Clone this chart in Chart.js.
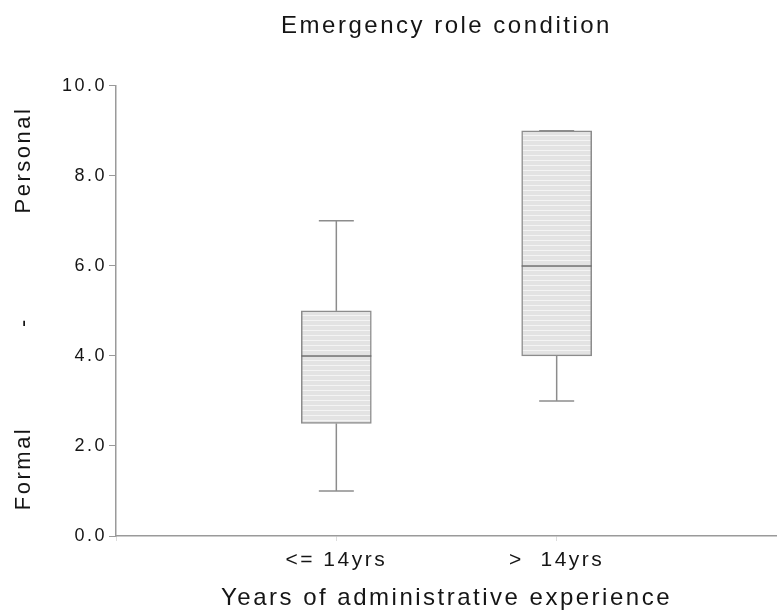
<!DOCTYPE html>
<html lang="en">
<head>
<meta charset="UTF-8">
<title>Emergency role condition</title>
<style>
  body { margin: 0; background: #fff; }
  #wrap { width: 777px; height: 614px; }
</style>
</head>
<body>
<div id="wrap"><canvas id="chart"></canvas></div>
<script src="https://cdn.jsdelivr.net/npm/chart.js"></script>
<script>
// categories (empty ends keep the boxes at 1/3 and 2/3 of the axis)
const categories = ['', '<= 14yrs', '>  14yrs', ''];
const q1 = [null, 2.5, 4, null];
const q3 = [null, 5, 9, null];
const medians = [null, 4, 6, null];
const whiskerLow = [null, 1, 3, null];
const whiskerHigh = [null, 7, 9, null];
const yTicks = [0, 2, 4, 6, 8, 10];
const sideLabels = ['Formal', '-', 'Personal'];
const sideLabelAt = [1.5, 4.75, 8.35];

const textColor = '#151515';
const lineColor = '#8c8c8c';
const fontFamily = '"Liberation Sans", Arial, sans-serif';

function hatch() {
    const c = document.createElement('canvas');
    c.width = 8; c.height = 5;
    const g = c.getContext('2d');
    g.fillStyle = '#e3e3e3';
    g.fillRect(0, 0, 8, 5);
    g.fillStyle = '#f4f4f4';
    g.fillRect(0, 0, 8, 1);
    return g.createPattern(c, 'repeat');
}

// wide lettering like the scanned original
const spacing = {
    id: 'spacing',
    beforeUpdate(chart) { chart.ctx.letterSpacing = '2.5px'; },
    beforeDraw(chart) { chart.ctx.letterSpacing = '2.5px'; },
    afterLayout(chart) {
        // centre the title over the plot area
        if (chart.titleBlock) {
            chart.titleBlock.left = chart.chartArea.left;
            chart.titleBlock.right = chart.chartArea.right;
        }
    }
};

const boxParts = {
    id: 'boxParts',
    afterDatasetsDraw(chart) {
        const { ctx, scales: { x, y } } = chart;
        const bars = chart.getDatasetMeta(0).data;
        ctx.save();
        ctx.strokeStyle = lineColor;
        ctx.lineWidth = 1.5;
        const seg = (x1, y1, x2, y2) => {
            ctx.beginPath(); ctx.moveTo(x1, y1); ctx.lineTo(x2, y2); ctx.stroke();
        };
        categories.forEach((c, i) => {
            if (medians[i] == null) return;
            const cx = x.getPixelForValue(i);
            const half = bars[i].width / 2;
            const cap = half / 2;
            seg(cx, y.getPixelForValue(whiskerHigh[i]), cx, y.getPixelForValue(q3[i]));
            seg(cx, y.getPixelForValue(whiskerLow[i]), cx, y.getPixelForValue(q1[i]));
            seg(cx - cap, y.getPixelForValue(whiskerHigh[i]), cx + cap, y.getPixelForValue(whiskerHigh[i]));
            seg(cx - cap, y.getPixelForValue(whiskerLow[i]), cx + cap, y.getPixelForValue(whiskerLow[i]));
            ctx.strokeStyle = '#6e6e6e';
            seg(cx - half, y.getPixelForValue(medians[i]), cx + half, y.getPixelForValue(medians[i]));
            ctx.strokeStyle = lineColor;
        });
        ctx.restore();
    },
    afterDraw(chart) {
        const { ctx, scales: { y } } = chart;
        ctx.save();
        ctx.fillStyle = textColor;
        ctx.font = '22px ' + fontFamily;
        ctx.textAlign = 'center';
        ctx.textBaseline = 'middle';
        sideLabels.forEach((t, i) => {
            ctx.save();
            ctx.translate(24, y.getPixelForValue(sideLabelAt[i]));
            ctx.rotate(-Math.PI / 2);
            ctx.fillText(t, 0, 0);
            ctx.restore();
        });
        ctx.restore();
    }
};

new Chart(document.getElementById('chart'), {
    type: 'bar',
    data: {
        labels: categories,
        datasets: [{
            data: categories.map((c, i) => q1[i] == null ? null : [q1[i], q3[i]]),
            backgroundColor: hatch(),
            borderColor: lineColor,
            borderWidth: 1.5,
            borderSkipped: false,
            barThickness: 70
        }]
    },
    options: {
        responsive: true,
        maintainAspectRatio: false,
        animation: false,
        layout: { padding: { left: 60, right: 0, top: 0, bottom: 0 } },
        plugins: {
            legend: { display: false },
            tooltip: { enabled: false },
            title: {
                display: true,
                text: 'Emergency role condition',
                color: textColor,
                font: { family: fontFamily, size: 24, weight: 'normal' },
                padding: { top: 12, bottom: 45 }
            }
        },
        scales: {
            x: {
                offset: false,
                afterFit: s => { s.paddingLeft = 0; s.paddingRight = 0; },
                grid: { drawOnChartArea: false, offset: false, tickLength: 5, color: '#dddddd' },
                border: { color: '#9a9a9a', width: 1.5 },
                ticks: {
                    color: textColor, padding: 7, maxRotation: 0, autoSkip: false,
                    font: { family: fontFamily, size: 21 }
                },
                title: {
                    display: true,
                    text: 'Years of administrative experience',
                    color: textColor,
                    font: { family: fontFamily, size: 24 },
                    padding: { top: 4, bottom: 1 }
                }
            },
            y: {
                min: 0,
                max: 10,
                afterBuildTicks: s => { s.ticks = yTicks.map(v => ({ value: v })); },
                afterFit: s => { s.width = 56; },
                grid: { drawOnChartArea: false, tickLength: 7, color: '#9a9a9a' },
                border: { color: '#9a9a9a', width: 1.5 },
                ticks: {
                    color: textColor, padding: 2,
                    font: { family: fontFamily, size: 18 },
                    callback: v => v.toFixed(1)
                }
            }
        }
    },
    plugins: [spacing, boxParts]
});
</script>
</body>
</html>
